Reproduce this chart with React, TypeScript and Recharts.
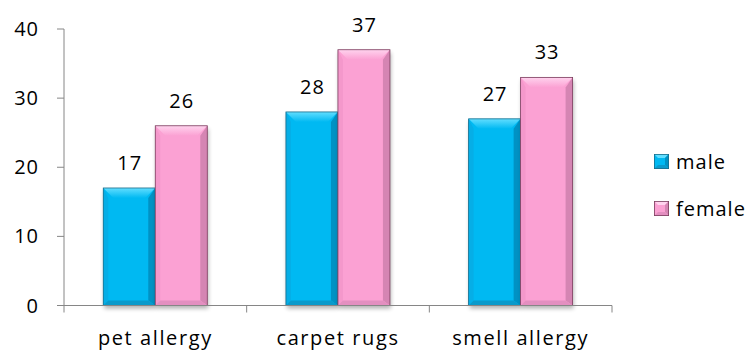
import React from 'react';
import { BarChart, Bar, XAxis, YAxis, LabelList } from 'recharts';

const categories = ['pet allergy', 'carpet rugs', 'smell allergy'];
const maleValues = [17, 28, 27];
const femaleValues = [26, 37, 33];
const yTicks = [0, 10, 20, 30, 40];
const seriesNames = ['male', 'female'];

const data = categories.map((c, i) => ({ category: c, male: maleValues[i], female: femaleValues[i] }));

const FONT = '"Open Sans", sans-serif';
const AXIS = '#868686';

const MALE = { base: '#00B9F2', top: '#62DEFF', left: '#06AEE6', right: '#0092C4', bottom: '#0A9ACB', stroke: '#1A6E8C' };
const FEMALE = { base: '#FBA1D3', top: '#FFD3EE', left: '#F498CB', right: '#D585B3', bottom: '#E38FC0', stroke: '#7A3F5E' };
const PALETTES: Record<string, any> = { male: MALE, female: FEMALE };

const CHART_W = 750;
const CHART_H = 351;
const MARGIN = { top: 29, right: 138, left: 0, bottom: 0 };
const Y_W = 64;
const X_H = 45.5;
const BAND = (CHART_W - MARGIN.left - MARGIN.right - Y_W) / categories.length;

function BevelBar(props: any) {
  const { x, y, width: w, height: h, pal, id } = props;
  if (!h || h <= 0) return null;
  const b = Math.min(10, w / 2, h / 2);
  const fid = `shadow-${id}`;
  const gid = `topgrad-${id}`;
  return (
    <g>
      <defs>
        <filter id={fid} x="-20%" y="-20%" width="140%" height="140%">
          <feGaussianBlur stdDeviation="2" />
        </filter>
        <linearGradient id={gid} x1="0" y1="0" x2="0" y2="1">
          <stop offset="0" stopColor={pal.top} />
          <stop offset="1" stopColor={pal.base} />
        </linearGradient>
      </defs>
      <rect x={x + 1} y={y + 3} width={w} height={h} fill="#000" opacity={0.3} filter={`url(#${fid})`} />
      <rect x={x} y={y} width={w} height={h} fill={pal.base} />
      <polygon points={`${x},${y} ${x + w},${y} ${x + w - b},${y + b} ${x + b},${y + b}`} fill={`url(#${gid})`} />
      <polygon points={`${x},${y} ${x + b * 0.5},${y + b} ${x + b * 0.5},${y + h - b * 0.5} ${x},${y + h}`} fill={pal.left} />
      <polygon points={`${x + w},${y} ${x + w},${y + h} ${x + w - b * 0.7},${y + h - b * 0.5} ${x + w - b * 0.7},${y + b}`} fill={pal.right} />
      <polygon points={`${x},${y + h} ${x + w},${y + h} ${x + w - b * 0.7},${y + h - b * 0.5} ${x + b * 0.5},${y + h - b * 0.5}`} fill={pal.bottom} />
      <rect x={x} y={y} width={w} height={h} fill="none" stroke={pal.stroke} strokeWidth={0.8} />
    </g>
  );
}

function XTick(props: any) {
  const { x, y, payload, index } = props;
  const axisY = y - 7;
  const left = x - BAND / 2;
  const right = x + BAND / 2;
  return (
    <g>
      <line x1={left} y1={axisY} x2={left} y2={axisY + 7} stroke={AXIS} />
      {index === categories.length - 1 && <line x1={right} y1={axisY} x2={right} y2={axisY + 7} stroke={AXIS} />}
      <text x={x} y={axisY + 39.5} textAnchor="middle" fill="#000" fontSize={20} fontFamily={FONT} letterSpacing={1.6}>
        {payload.value}
      </text>
    </g>
  );
}

function ValueLabel(props: any) {
  const { x, y, width, value } = props;
  return (
    <text x={x + width / 2 + 0.5} y={y - 18} textAnchor="middle" fill="#000" fontSize={20} fontFamily={FONT} letterSpacing={1}>
      {value}
    </text>
  );
}

function LegendMarker({ pal }: { pal: any }) {
  const s = 15;
  const b = 4;
  return (
    <svg width={s} height={s} style={{ display: 'block' }}>
      <rect x={0} y={0} width={s} height={s} fill={pal.base} />
      <polygon points={`0,0 ${s},0 ${s - b},${b} ${b},${b}`} fill={pal.top} />
      <polygon points={`${s},0 ${s},${s} ${s - b},${s - b} ${s - b},${b}`} fill={pal.right} />
      <polygon points={`0,${s} ${s},${s} ${s - b},${s - b} ${b},${s - b}`} fill={pal.bottom} />
      <rect x={0.4} y={0.4} width={s - 0.8} height={s - 0.8} fill="none" stroke={pal.stroke} strokeWidth={0.8} />
    </svg>
  );
}

function LegendBox() {
  return (
    <div style={{ position: 'absolute', left: 654, top: 138, width: 96, fontFamily: FONT, fontSize: 20, color: '#000' }}>
      {seriesNames.map((n) => (
        <div key={n} style={{ display: 'flex', alignItems: 'center', height: 47 }}>
          <LegendMarker pal={PALETTES[n]} />
          <span style={{ marginLeft: 7, letterSpacing: 1, lineHeight: '20px', whiteSpace: 'nowrap' }}>{n}</span>
        </div>
      ))}
    </div>
  );
}

export default function App() {
  return (
    <div style={{ position: 'absolute', left: 0, top: 0, width: CHART_W, height: CHART_H, background: '#fff' }}>
      <BarChart width={CHART_W} height={CHART_H} data={data} margin={MARGIN} barCategoryGap="21.5%" barGap={0}>
        <XAxis
          dataKey="category"
          height={X_H}
          axisLine={{ stroke: AXIS }}
          tickLine={false}
          tickSize={7}
          tickMargin={0}
          tick={<XTick />}
          interval={0}
        />
        <YAxis
          width={Y_W}
          domain={[0, 40]}
          ticks={yTicks}
          axisLine={{ stroke: AXIS }}
          tickLine={{ stroke: AXIS }}
          tickSize={7}
          tickMargin={18}
          tick={{ fill: '#000', fontSize: 20, fontFamily: FONT, letterSpacing: 1 }}
          allowDecimals={false}
        />
        <Bar dataKey="male" name="male" isAnimationActive={false} shape={(p: any) => <BevelBar {...p} pal={MALE} id={`m${p.index}`} />}>
          <LabelList dataKey="male" content={<ValueLabel />} />
        </Bar>
        <Bar dataKey="female" name="female" isAnimationActive={false} shape={(p: any) => <BevelBar {...p} pal={FEMALE} id={`f${p.index}`} />}>
          <LabelList dataKey="female" content={<ValueLabel />} />
        </Bar>
      </BarChart>
      <LegendBox />
    </div>
  );
}
